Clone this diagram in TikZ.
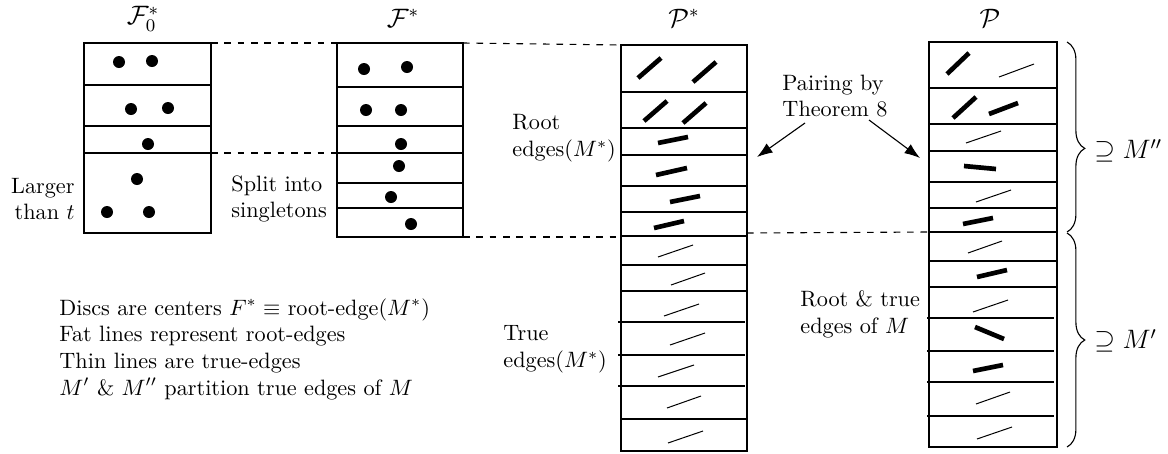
\documentclass[tikz,border=0pt]{standalone}
\usepackage{amsmath,amssymb}
\usetikzlibrary{arrows.meta,decorations.pathreplacing}
\begin{document}
\begin{tikzpicture}[x=0.45pt,y=-0.45pt,
  colbox/.style={line width=0.6pt},
  rowline/.style={line width=0.6pt},
  dot/.style={fill=black},
  fat/.style={line width=2.1pt},
  thin/.style={line width=0.45pt},
  dashlink/.style={dashed,line width=0.5pt},
  lbl/.style={inner sep=0pt,font=\normalsize},
  ttl/.style={inner sep=0pt,font=\large},
  arr/.style={line width=0.5pt,-{Latex[length=7pt,width=5pt]}},
  brc/.style={decorate,line width=0.5pt}]
\useasboundingbox (0,0) rectangle (1168,453);

% ---------- column 1: F0*
\draw[colbox] (84,43) rectangle (211,233);
\foreach \y in {85,126,153} \draw[rowline] (84,\y) -- (211,\y);
\foreach \p in {(119,62),(152,61),(131,109),(168,108),(148,144),(137,179),(107,212),(149,212)}
  \fill[dot] \p circle (6);
\node[ttl] (t1) at (143,19) {$\mathcal{F}_0^*$};
\coordinate (c1tr) at (211,43);
\coordinate (c1mr) at (211,153);

% ---------- column 2: F*
\draw[colbox] (337,43) rectangle (463,237);
\foreach \y in {87,126,153,183,208} \draw[rowline] (337,\y) -- (463,\y);
\foreach \p in {(364,69),(407,67),(366,110),(401,110),(401,144),(399,166),(391,197),(411,224)}
  \fill[dot] \p circle (6);
\node[ttl] (t2) at (403,18) {$\mathcal{F}^*$};
\coordinate (c2tl) at (337,43);
\coordinate (c2ml) at (337,153);
\coordinate (c2tr) at (463,43);
\coordinate (c2br) at (463,237);

% ---------- column 3: P*
\draw[colbox] (621,45) rectangle (747,451);
\foreach \y in {92,128,155,186,212,236,265,291,419} \draw[rowline] (621,\y) -- (747,\y);
\foreach \y in {322,355,386} \draw[rowline] (618,\y) -- (745,\y);
\draw[fat] (638,78) -- (661,58);
\draw[fat] (693,82) -- (716,62);
\draw[fat] (644,121) -- (667,101);
\draw[fat] (683,123) -- (706,103);
\draw[fat] (658,143) -- (688,137);
\draw[fat] (656,175) -- (687,168);
\draw[fat] (670,202) -- (700,196);
\draw[fat] (654,228) -- (684,221);
\draw[thin] (658,257) -- (693,245);
\draw[thin] (671,285) -- (705,273);
\draw[thin] (664,316) -- (699,304);
\draw[thin] (670,345) -- (705,333);
\draw[thin] (658,377) -- (694,365);
\draw[thin] (667,408) -- (701,396);
\draw[thin] (668,443) -- (703,431);
\node[ttl] (t3) at (684,18) {$\mathcal{P}^*$};
\coordinate (c3tl) at (621,45);
\coordinate (c3bl) at (621,237);
\coordinate (c3mr) at (747,233);
\coordinate (c3arr) at (757,157);

% ---------- column 4: P
\draw[colbox] (929,42) rectangle (1057,447);
\foreach \y in {88,124,151,182,208,232,261,287} \draw[rowline] (929,\y) -- (1057,\y);
\foreach \y in {318,351,382,416} \draw[rowline] (927,\y) -- (1054,\y);
\draw[fat] (947,74) -- (969,53);
\draw[thin] (999,77) -- (1034,64);
\draw[fat] (953,118) -- (976,97);
\draw[fat] (989,114) -- (1018,103);
\draw[thin] (966,143) -- (1001,131);
\draw[fat] (964,166) -- (996,169);
\draw[thin] (976,202) -- (1011,190);
\draw[fat] (963,224) -- (993,218);
\draw[thin] (968,253) -- (1002,241);
\draw[fat] (977,277) -- (1007,270);
\draw[thin] (973,312) -- (1008,300);
\draw[fat] (975,327) -- (1004,339);
\draw[fat] (973,371) -- (1003,365);
\draw[thin] (976,404) -- (1010,392);
\draw[thin] (977,439) -- (1012,427);
\node[ttl] (t4) at (990,18) {$\mathcal{P}$};
\coordinate (c4ml) at (929,232);
\coordinate (c4arr) at (920,158);

% ---------- dashed links
\draw[dashlink] (c1tr) -- (c2tl);
\draw[dashlink] (c1mr) -- (c2ml);
\draw[dashlink] (c2tr) -- (c3tl);
\draw[dashlink] (c2br) -- (c3bl);
\draw[dashlink] (c3mr) -- (c4ml);

% ---------- labels
\node[lbl,anchor=east,align=right] (larger) at (75,199) {Larger\\than $t$};
\node[lbl,anchor=west,align=left] (split) at (231,199) {Split into\\singletons};
\node[lbl,anchor=west,align=left] (root) at (512,138) {Root\\edges$(M^*)$};
\node[lbl,anchor=west,align=left] (true) at (503,349) {True\\edges$(M^*)$};
\node[lbl,anchor=west,align=left] (rt) at (800,314) {Root \& true\\edges of $M$};
\node[lbl,anchor=west,align=left] (pair) at (782,96) {Pairing by\\Theorem 8};
\node[lbl,anchor=west,align=left] (legend) at (59,349) {Discs are centers $F^*\equiv$ root-edge$(M^*)$\\Fat lines represent root-edges\\Thin lines are true-edges\\$M'$ \& $M''$ partition true edges of $M$};

% ---------- arrows
\coordinate (pa1) at (805,123);
\coordinate (pa2) at (869,120);
\draw[arr] (pa1) -- (c3arr);
\draw[arr] (pa2) -- (c4arr);

% ---------- braces
\draw[brc,decoration={brace,amplitude=8pt,aspect=0.56}] (1067,42) -- (1067,232);
\draw[brc,decoration={brace,amplitude=8pt,aspect=0.5}] (1067,233) -- (1067,447);
\node[ttl,anchor=west] (m2) at (1094,151) {$\supseteq M''$};
\node[ttl,anchor=west] (m1) at (1094,341) {$\supseteq M'$};
\end{tikzpicture}
\end{document}
